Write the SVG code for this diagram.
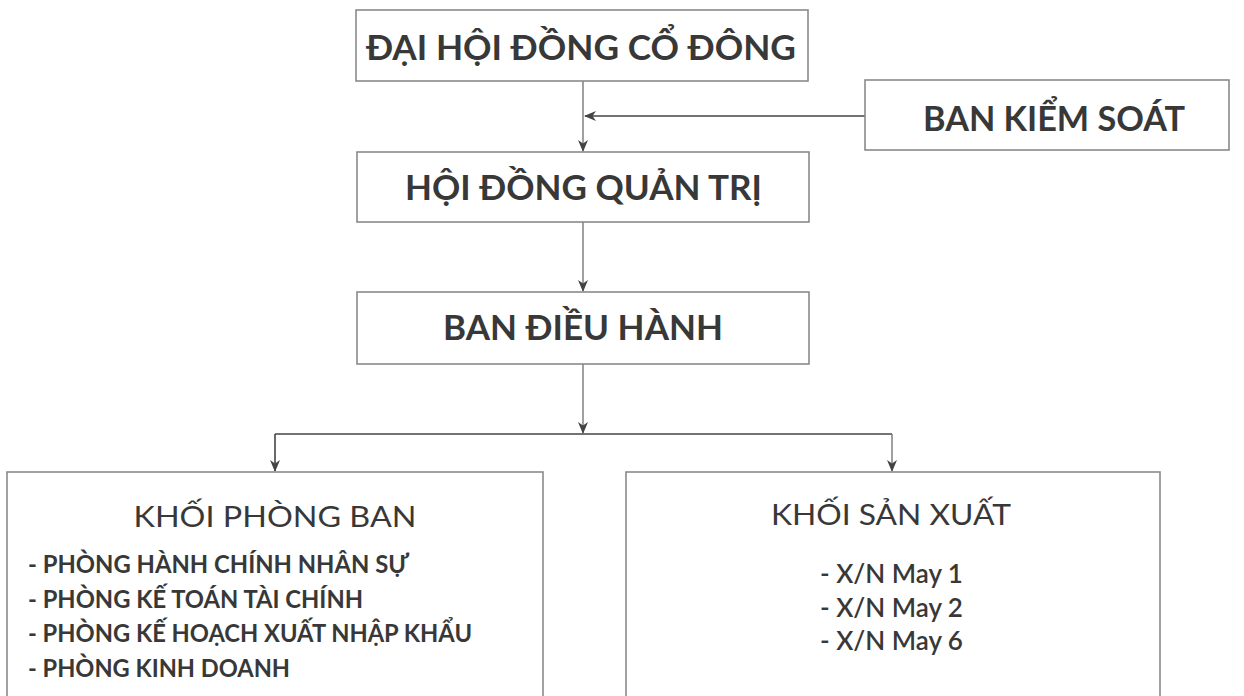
<svg xmlns="http://www.w3.org/2000/svg" width="1244" height="696" viewBox="0 0 1244 696">
<style>
.box{fill:#fff;stroke:#8a8a8a;stroke-width:1.6}
.t{font-family:Lato,"Noto Sans",sans-serif;fill:#383838}
.h{font-size:35px;font-weight:700}
.sub{font-size:29px;font-weight:400;text-anchor:middle}
.li{font-size:25px;font-weight:700}
.xn{font-size:26px;font-weight:600}
.c{fill:none;stroke:#444;stroke-width:1.6}
.cv{fill:none;stroke:#777;stroke-width:1.4}
</style>
<defs>
<marker id="ah" viewBox="0 0 12 10" refX="11" refY="5" markerWidth="12" markerHeight="10" markerUnits="userSpaceOnUse" orient="auto">
<path d="M0,0 L12,5 L0,10 L3.5,5 Z" fill="#444"/>
</marker>
</defs>
<rect width="1244" height="696" fill="#fff"/>
<g id="connectors">
<path class="cv" d="M583,81 V151" marker-end="url(#ah)"/>
<path class="c" d="M865,116 H585" marker-end="url(#ah)"/>
<path class="cv" d="M583,222 V291" marker-end="url(#ah)"/>
<path class="cv" d="M583,364 V433" marker-end="url(#ah)"/>
<path class="c" d="M275,434 H892"/>
<path class="c" d="M275,434 V471" marker-end="url(#ah)"/>
<path class="cv" d="M892,434 V471" marker-end="url(#ah)"/>
</g>
<g id="dai-hoi-dong-co-dong">
<rect class="box" x="356" y="10" width="452" height="71"/>
<text class="t h" x="366" y="60" textLength="430" lengthAdjust="spacingAndGlyphs">ĐẠI HỘI ĐỒNG CỔ ĐÔNG</text>
</g>
<g id="ban-kiem-soat">
<rect class="box" x="865" y="80" width="364" height="70"/>
<text class="t h" x="923" y="131" textLength="262" lengthAdjust="spacingAndGlyphs">BAN KIỂM SOÁT</text>
</g>
<g id="hoi-dong-quan-tri">
<rect class="box" x="357" y="152" width="452" height="70"/>
<text class="t h" x="405" y="200" textLength="357" lengthAdjust="spacingAndGlyphs">HỘI ĐỒNG QUẢN TRỊ</text>
</g>
<g id="ban-dieu-hanh">
<rect class="box" x="357" y="292" width="452" height="72"/>
<text class="t h" x="443" y="340" textLength="280" lengthAdjust="spacingAndGlyphs">BAN ĐIỀU HÀNH</text>
</g>
<g id="khoi-phong-ban">
<rect class="box" x="7" y="472" width="536" height="240"/>
<text class="t sub" x="275" y="527" textLength="283" lengthAdjust="spacingAndGlyphs">KHỐI PHÒNG BAN</text>
<text class="t li" x="28" y="573" textLength="381" lengthAdjust="spacingAndGlyphs">- PHÒNG HÀNH CHÍNH NHÂN SỰ</text>
<text class="t li" x="28" y="608" textLength="335" lengthAdjust="spacingAndGlyphs">- PHÒNG KẾ TOÁN TÀI CHÍNH</text>
<text class="t li" x="28" y="642" textLength="444" lengthAdjust="spacingAndGlyphs">- PHÒNG KẾ HOẠCH XUẤT NHẬP KHẨU</text>
<text class="t li" x="28" y="677" textLength="262" lengthAdjust="spacingAndGlyphs">- PHÒNG KINH DOANH</text>
</g>
<g id="khoi-san-xuat">
<rect class="box" x="626" y="472" width="534" height="240"/>
<text class="t sub" x="891" y="525" textLength="240" lengthAdjust="spacingAndGlyphs">KHỐI SẢN XUẤT</text>
<text class="t xn" x="820" y="583">- X/N May 1</text>
<text class="t xn" x="820" y="617">- X/N May 2</text>
<text class="t xn" x="820" y="650">- X/N May 6</text>
</g>
</svg>
